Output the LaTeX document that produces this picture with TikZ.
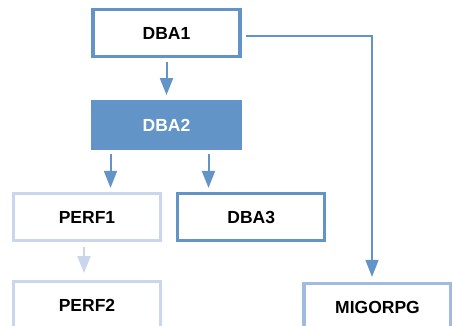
\documentclass[tikz,border=0pt]{standalone}
\usepackage{fontspec}
\setmainfont{Liberation Sans}
\usepackage{xcolor}
\usetikzlibrary{positioning,arrows.meta}

\definecolor{dbablue}{RGB}{98,148,200}
\definecolor{perfblue}{RGB}{201,214,238}
\definecolor{migblue}{RGB}{160,186,225}

\begin{document}
\begin{tikzpicture}[
  x=1pt, y=-1pt,
  node distance=42pt and 14pt,
  box/.style={draw, line width=3.2pt, fill=white, align=center, minimum width=147pt, minimum height=47pt, font=\bfseries\fontsize{17.5}{20}\selectfont},
  flow/.style={-{Triangle[length=17pt,width=13pt]}, line width=2pt, dbablue},
  thinflow/.style={-{Triangle[length=17pt,width=13pt]}, line width=1.5pt, dbablue}
]
\useasboundingbox (0,0) rectangle (452,326);
\node[box, draw=dbablue] (dba1) at (166.5,33) {DBA1};
\node[box, draw=dbablue, fill=dbablue, text=white, below=of dba1] (dba2) {DBA2};
\node[box, draw=perfblue] (perf1) at (87,217) {PERF1};
\node[box, draw=dbablue, right=of perf1] (dba3) {DBA3};
\node[box, draw=perfblue, below=38pt of perf1] (perf2) {PERF2};
\node[box, draw=migblue] (migorpg) at (377.5,307) {MIGORPG};

\draw[flow, shorten <=4pt, shorten >=5pt] (dba1) -- (dba2);
\draw[flow, shorten <=4pt, shorten >=4pt] ([xshift=-56pt]dba2.south) -- ([xshift=-56pt]dba2.south |- perf1.north);
\draw[flow, shorten <=4pt, shorten >=4pt] ([xshift=42pt]dba2.south) -- ([xshift=42pt]dba2.south |- dba3.north);
\draw[flow, perfblue, shorten <=5pt, shorten >=7pt] ([xshift=-3pt]perf1.south) -- ([xshift=-3pt]perf2.north);
\draw[thinflow, shorten <=4pt, shorten >=5pt] ([yshift=-3pt]dba1.east) -| (migorpg.north -| 372,0);
\end{tikzpicture}
\end{document}
